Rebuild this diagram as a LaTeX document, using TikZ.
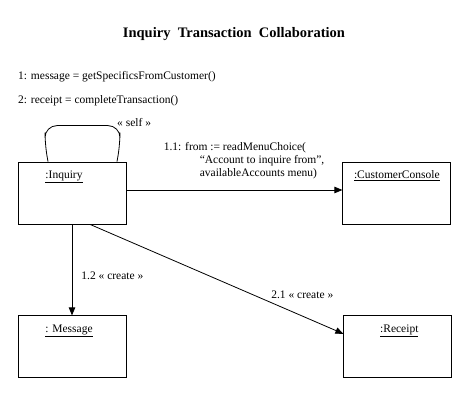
\documentclass[tikz,border=0pt]{standalone}
\usepackage{fontspec}
\setmainfont{Liberation Serif}
\usetikzlibrary{positioning,arrows.meta}
\tikzset{
  object/.style={draw=black,line width=0.8pt,minimum width=108pt,minimum height=62pt,inner sep=0pt},
  objname/.style={anchor=north,yshift=-9pt,inner sep=0pt,font=\fontsize{11.5}{13}\selectfont},
  message/.style={line width=0.8pt,draw=black,-{Triangle[length=8pt,width=6.5pt]}},
  msglabel/.style={inner sep=1pt,font=\fontsize{11.5}{13}\selectfont},
  selfloop/.style={line width=0.8pt,draw=black,rounded corners=12pt}
}

\begin{document}
\begin{tikzpicture}[x=1pt,y=1pt,node distance=91pt and 216pt]
    \useasboundingbox (0,0) rectangle (468,414);
    \node[font=\fontsize{14.5}{16}\selectfont\bfseries] (title) at (234,380) {Inquiry\ \ Transaction\ \ Collaboration};
    \node[msglabel,anchor=west,inner sep=0pt] (seq1) at (18,337) {1: message = getSpecificsFromCustomer()};
    \node[msglabel,anchor=west,inner sep=0pt] (seq2) at (18,313) {2: receipt = completeTransaction()};
    % objects
    \node[object,label={[objname,xshift=-8pt]north:\underline{:Inquiry}}] (inquiry) at (72,221) {};
    \node[object,right=of inquiry,label={[objname]north:\underline{:CustomerConsole}}] (console) {};
    \node[object,below=of inquiry,label={[objname,xshift=-3pt]north:\underline{: Message}}] (message) {};
    \node[object,right=217pt of message,label={[objname,xshift=1.5pt]north:\underline{:Receipt}}] (receipt) {};
    % self link
    \coordinate (selfL) at ([xshift=-24pt]inquiry.north);
    \coordinate (selfR) at ([xshift=45pt]inquiry.north);
    \coordinate (selfTop) at ([yshift=36pt]selfR);
    \draw[selfloop] (selfL) -- ++(-3,17) |- ([xshift=3pt]selfTop) -- ([xshift=3pt,yshift=17pt]selfR) -- (selfR);
    \node[msglabel,anchor=west] (selflabel) at ([xshift=-1pt,yshift=3pt]selfTop) {« self »};
    % messages
    \draw[message] ([yshift=3pt]inquiry.east) -- node[msglabel,at start,anchor=south west,xshift=36pt,yshift=10pt,align=left] {1.1: from := readMenuChoice(\\ \hspace*{36pt}“Account to inquire from”,\\ \hspace*{36pt}availableAccounts menu)} ([yshift=3pt]console.west);
    \draw[message] (inquiry) -- node[msglabel,right,pos=0.56,xshift=8pt] {1.2 « create »} (message);
    \draw[message] ([xshift=18pt]inquiry.south) -- node[msglabel,pos=0.71,anchor=south west,yshift=2pt] {2.1 « create »} ([yshift=13pt]receipt.west);
  \end{tikzpicture}
\end{document}
